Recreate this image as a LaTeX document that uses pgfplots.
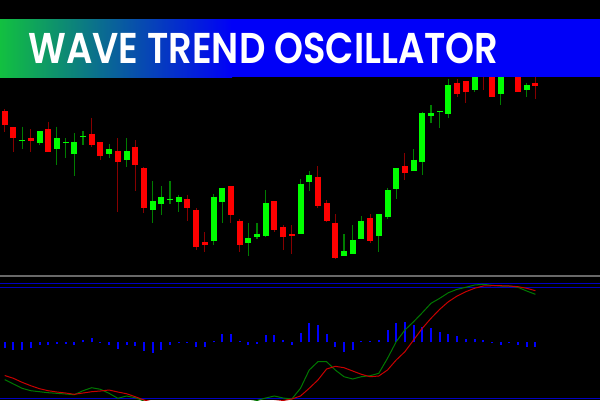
\documentclass[border=0pt]{standalone}
\usepackage{fontspec}
\setmainfont{Poppins}
\newfontfamily\titlefont{Poppins SemiBold}
\usepackage{graphicx}
\usepackage{pgfplots}
\usepackage{pgfplotstable}
\pgfplotsset{compat=1.18}
\definecolor{bullbody}{RGB}{0,255,0}
\definecolor{bearbody}{RGB}{255,0,0}
\definecolor{bullwick}{RGB}{0,125,0}
\definecolor{bearwick}{RGB}{135,0,0}
\definecolor{bannergreen}{RGB}{18,192,64}
\definecolor{bannerblue}{RGB}{0,0,248}
\definecolor{sepgray}{RGB}{105,105,105}
\definecolor{lvlblue}{RGB}{0,0,195}
\definecolor{histblue}{RGB}{0,0,255}
\definecolor{wtgreen}{RGB}{0,120,0}
\definecolor{wtred}{RGB}{200,0,0}

% pixel coordinates (y measured from the top)
\pgfplotstableread{
x top bot hi lo
22.1 140 141 126.7 149.3
39.5 131.3 142.7 131 145
56.9 138 149.3 126.7 164.5
65.6 142 143 138 158
74.3 142.2 153.5 133.3 175.7
83.0 135.5 136.5 131.2 145
109.1 149 153.7 144.3 158
126.5 151 160 138.2 167
152.6 201 210 181.2 223.2
161.3 196.8 203.7 186 215
170.0 198.7 199.7 181.2 203.7
178.7 196.8 201.7 194.7 212.3
213.5 196.7 241 194.3 245
222.2 187.8 201.5 187.8 223.3
248.3 238 242.7 223.2 256
257.0 233.7 236.5 223.2 239
265.7 203.2 236.3 190 236.5
300.5 183.5 234 179.3 234
309.2 174.7 182 171 190.7
344.0 251 256 234 256
352.7 240 253.7 225 253.7
361.4 220.7 238.7 216 238.7
378.8 214 236.3 214 251.7
387.5 190 217 187.7 219
396.2 168.3 188.5 168.3 199.3
413.6 159.7 170.7 149 170.7
422.3 113.3 162 111.7 175.3
431.0 113.3 115.7 105 123
439.7 111 112 111 127.7
448.4 85 113.7 79 118.3
474.5 65 90 58 92
500.6 70 94.3 62 105
509.3 45 68 40 72
526.7 85 90 83.3 96.7
}\bull

\pgfplotstableread{
x top bot hi lo
4.7 111.3 125.3 109 131.7
13.4 127.3 138.3 126.7 151.7
30.8 138 140.7 129.3 151.7
48.2 129.3 151.5 121.7 151.7
91.7 133.5 145 117.7 146.7
100.4 142 156 142 160
117.8 151 162.3 138.3 212
135.2 146.7 165 140 191
143.9 168.2 208 167.3 212.5
187.4 199 207.7 194.7 221
196.1 209.8 247 208 250
204.8 242.2 245 232.2 251.7
230.9 186 214.8 186 223.3
239.6 220.7 245 218.7 251.7
274.4 201.2 230 201.2 231.7
283.1 226.8 236.5 225.2 249.7
291.8 233.8 236.3 225.2 253.5
317.9 176.7 206 166 208.3
326.6 203 221 200 221.7
335.3 222.7 258 214 259.3
370.1 218.3 240.7 214 242.7
404.9 166.3 173 153 180
457.1 83.3 94.3 79 96.7
465.8 81 92 81 102.7
483.2 55 72 50 90
491.9 68 96.7 60 96.7
518.0 65 92 58 92
535.4 83 85.7 70 99
}\bear

\pgfplotstableread{
x h
4.7 -5.3
13.4 -7.3
22.1 -7.3
30.8 -6
39.5 -3
48.2 -2.7
56.9 -1.7
65.6 -1.3
74.3 -2.3
83.0 2.3
91.7 4.7
100.4 -0.8
109.1 -2.7
117.8 -7
126.5 -3
135.2 -3.3
143.9 -8.3
152.6 -10.3
161.3 -7.3
170.0 -2.3
178.7 -0.8
187.4 -0.8
196.1 -4.7
204.8 -4.7
213.5 1.7
222.2 8
230.9 8.7
239.6 1.5
248.3 -2.7
257.0 -1.7
265.7 7
274.4 7
283.1 2.3
291.8 -2.3
300.5 9
309.2 19
317.9 17.7
326.6 8.3
335.3 -5
344.0 -9.7
352.7 -7.7
361.4 1
370.1 1.7
378.8 2.7
387.5 12
396.2 19
404.9 20.3
413.6 17
422.3 15.7
431.0 14
439.7 10.7
448.4 8.7
457.1 6.7
465.8 3.3
474.5 3.3
483.2 2.3
491.9 0.8
500.6 -2.7
509.3 0.8
518.0 -2.7
526.7 -4.3
535.4 -5
}\hist

\pgfplotstableread{
x g r
4.7 379.6 375.5
13.4 384 378.3
22.1 388.3 382.3
30.8 390.7 385.7
39.5 391.7 388.7
48.2 392.7 390.7
56.9 393.3 392
65.6 394 393
74.3 394.7 394.3
83.0 390.7 393
91.7 387.7 391.7
100.4 389.3 391
109.1 393.3 390
117.8 398.3 392
126.5 396 393.7
135.2 397.7 396.7
143.9 401 400
152.6 404 402
161.3 406 404
170.0 407 405.5
178.7 407 406.5
187.4 406 407
196.1 405 407
204.8 404 407
213.5 403 406.5
222.2 402 405.5
230.9 401.5 404
239.6 402 403
248.3 402 403
257.0 400.5 402.5
265.7 398 402
274.4 396 401.5
283.1 398 400.5
291.8 399 399
300.5 388.3 396
309.2 370 388.3
317.9 361.7 380
326.6 361.7 369
335.3 370 366.3
344.0 376.7 367.7
352.7 379 371
361.4 376.7 374.3
370.1 375.7 376.7
378.8 373.3 376
387.5 358.3 370
396.2 341.7 360
404.9 330 351.7
413.6 321.7 340
422.3 312.7 328.3
431.0 303.3 318.3
439.7 298.3 309.3
448.4 292.7 301.7
457.1 289.3 296
465.8 287.3 291.7
474.5 285 288.3
483.2 284.3 286
491.9 285.3 285.7
500.6 286 285.7
509.3 286 286
518.0 287.3 286.7
526.7 291 288.3
535.4 294.3 290.7
}\osc

\begin{document}
\begin{tikzpicture}
\begin{axis}[
  width=600bp, height=400bp, scale only axis,
  xmin=0, xmax=600, ymin=0, ymax=400, y dir=reverse,
  hide axis, clip=true,
]
\fill[black] (axis cs:0,0) rectangle (axis cs:600,400);

% wicks
\addplot[bullwick, line width=1.1bp, mark=none, quiver={u=0, v=\thisrow{lo}-\thisrow{hi}}]
  table[x=x, y=hi] {\bull};
\addplot[bearwick, line width=1.1bp, mark=none, quiver={u=0, v=\thisrow{lo}-\thisrow{hi}}]
  table[x=x, y=hi] {\bear};
% bodies
\addplot[bullbody, line width=6bp, mark=none, quiver={u=0, v={max(\thisrow{bot}-\thisrow{top},1.2)}}]
  table[x=x, y=top] {\bull};
\addplot[bearbody, line width=6bp, mark=none, quiver={u=0, v={max(\thisrow{bot}-\thisrow{top},1.2)}}]
  table[x=x, y=top] {\bear};

% banner
\shade[left color=bannergreen, right color=bannerblue] (axis cs:0,19.3) rectangle (axis cs:232,77.3);
\fill[bannerblue] (axis cs:231,19.3) rectangle (axis cs:600,77.3);
\node[anchor=base west, inner sep=0pt, text=white] at (axis cs:28.3,63.3)
  {\resizebox{470bp}{30.5bp}{\titlefont WAVE TREND OSCILLATOR}};

% separator and levels
\draw[sepgray, line width=2.4bp] (axis cs:0,276) -- (axis cs:600,276);
\draw[lvlblue, line width=0.9bp] (axis cs:0,283.3) -- (axis cs:600,283.3);
\draw[lvlblue, line width=0.9bp] (axis cs:0,287) -- (axis cs:600,287);
\draw[lvlblue, line width=0.9bp] (axis cs:0,398.4) -- (axis cs:600,398.4);

% histogram
\addplot[histblue, line width=2bp, mark=none, quiver={u=0, v=-\thisrow{h}}]
  table[x=x, y expr=342.3] {\hist};

% wave trend lines
\addplot[wtgreen, line width=1bp, mark=none] table[x=x, y=g] {\osc};
\addplot[wtred, line width=1bp, mark=none] table[x=x, y=r] {\osc};
\end{axis}
\pgfresetboundingbox
\useasboundingbox (current axis.south west) rectangle (current axis.north east);
\end{tikzpicture}
\end{document}
